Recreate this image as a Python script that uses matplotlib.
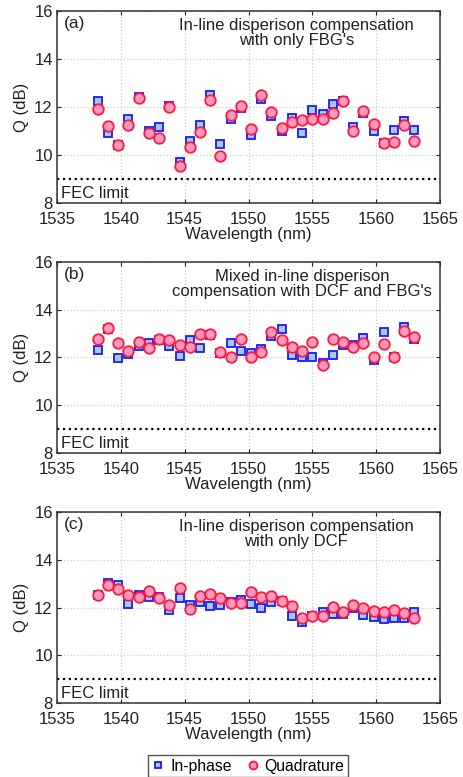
import matplotlib
matplotlib.use("Agg")
import matplotlib.pyplot as plt

plt.rcParams['font.family'] = ['Liberation Sans', 'DejaVu Sans']

wavelength = [1538.2, 1539.0, 1539.8, 1540.6, 1541.4, 1542.2, 1543.0, 1543.8,
              1544.6, 1545.4, 1546.2, 1547.0, 1547.8, 1548.6, 1549.4, 1550.2,
              1551.0, 1551.8, 1552.6, 1553.4, 1554.2, 1555.0, 1555.8, 1556.6,
              1557.4, 1558.2, 1559.0, 1559.8, 1560.6, 1561.4, 1562.2, 1563.0]

a_inphase = [12.24, 10.90, 10.41, 11.48, 12.41, 10.99, 11.16, 12.03,
             9.71, 10.60, 11.24, 12.51, 10.46, 11.52, 11.94, 10.83,
             12.34, 11.62, 10.99, 11.55, 10.92, 11.88, 11.69, 12.11,
             12.27, 11.17, 11.73, 11.02, 10.52, 11.03, 11.41, 11.06]
a_quad = [11.90, 11.20, 10.41, 11.24, 12.36, 10.92, 10.71, 11.99,
          9.56, 10.33, 10.95, 12.31, 9.95, 11.66, 12.04, 11.09,
          12.50, 11.79, 11.13, 11.38, 11.44, 11.52, 11.48, 11.76,
          12.27, 11.02, 11.83, 11.31, 10.52, 10.53, 11.23, 10.58]

b_inphase = [12.31, 13.20, 11.96, 12.14, 12.49, 12.59, 12.73, 12.49,
             12.07, 12.73, 12.39, 12.95, 12.18, 12.60, 12.28, 12.17,
             12.35, 12.91, 13.19, 12.11, 12.00, 12.03, 11.78, 12.11,
             12.53, 12.52, 12.81, 11.90, 13.05, 12.00, 13.29, 12.77]
b_quad = [12.77, 13.23, 12.59, 12.28, 12.66, 12.39, 12.77, 12.73,
          12.52, 12.42, 12.98, 12.98, 12.24, 12.03, 12.77, 12.03,
          12.25, 13.08, 12.74, 12.46, 12.28, 12.67, 11.68, 12.77,
          12.66, 12.46, 12.59, 12.03, 12.56, 12.00, 13.09, 12.84]

c_inphase = [12.52, 13.01, 12.94, 12.14, 12.52, 12.42, 12.42, 11.89,
             12.38, 12.10, 12.24, 12.07, 12.10, 12.24, 12.31, 12.14,
             12.00, 12.24, 12.28, 11.64, 11.40, 11.64, 11.82, 11.72,
             11.72, 12.00, 11.68, 11.61, 11.51, 11.54, 11.58, 11.82]
c_quad = [12.52, 12.94, 12.76, 12.52, 12.42, 12.70, 12.41, 12.10,
          12.83, 11.93, 12.48, 12.56, 12.38, 12.17, 12.17, 12.66,
          12.45, 12.48, 12.28, 12.06, 11.58, 11.64, 11.64, 12.03,
          11.82, 12.10, 11.96, 11.86, 11.82, 11.89, 11.75, 11.54]

panels = [
    ("(a)", "In-line disperison compensation\nwith only FBG's", a_inphase, a_quad),
    ("(b)", "Mixed in-line disperison\ncompensation with DCF and FBG's", b_inphase, b_quad),
    ("(c)", "In-line disperison compensation\nwith only DCF", c_inphase, c_quad),
]

fec_limit = 9.0
xticks = [1535, 1540, 1545, 1550, 1555, 1560, 1565]
yticks = [8, 10, 12, 14, 16]

W, H = 463, 777
fig = plt.figure(figsize=(W / 100, H / 100), dpi=100)

# axes boxes in pixels: (left, top, right, bottom)
boxes = [(57, 11, 440, 203), (57, 262, 440, 453), (57, 512, 440, 703)]
title_x = [0.625, 0.64, 0.625]

FS = 12
TXT = '#222222'
handles = None
for i, ((lab, title, inph, quad), (l, t, r, b)) in enumerate(zip(panels, boxes)):
    ax = fig.add_axes([l / W, 1 - b / H, (r - l) / W, (b - t) / H])
    ax.set_xlim(1535, 1565)
    ax.set_ylim(8, 16)
    ax.set_xticks(xticks)
    ax.set_yticks(yticks)
    ax.grid(True, color='#cccccc', linestyle=':', linewidth=0.9)
    ax.set_axisbelow(True)
    ax.axhline(fec_limit, color='black', linestyle=':', linewidth=1.6)
    h1, = ax.plot(wavelength, inph, linestyle='none', marker='s', markersize=6.2,
                  markerfacecolor='#a9c8ee', markeredgecolor='#1a1aff',
                  markeredgewidth=1.3, label='In-phase', zorder=3)
    h2, = ax.plot(wavelength, quad, linestyle='none', marker='o', markersize=7.6,
                  markerfacecolor='#ff99bf', markeredgecolor='#ff1a3c',
                  markeredgewidth=1.3, label='Quadrature', zorder=4)
    handles = [h1, h2]
    ax.tick_params(direction='in', labelsize=FS, length=3, width=0.8,
                   colors=TXT, top=True, right=True)
    ax.tick_params(axis='x', pad=6.5)
    ax.tick_params(axis='y', pad=3)
    for sp in ax.spines.values():
        sp.set_linewidth(1.1)
        sp.set_color('#333333')
    ax.set_xlabel('Wavelength (nm)', fontsize=FS, labelpad=0, color=TXT)
    ax.set_ylabel('Q (dB)', fontsize=FS, labelpad=4, color=TXT)
    ax.text(0.018, 0.975, lab, transform=ax.transAxes, ha='left', va='top',
            fontsize=12.5, color=TXT)
    ax.text(title_x[i], 0.965, title, transform=ax.transAxes, ha='center', va='top',
            fontsize=FS, color=TXT, linespacing=1.05)
    ax.text(0.01, 0.01, 'FEC limit', transform=ax.transAxes, ha='left',
            va='bottom', fontsize=FS, color=TXT)

fig.legend(handles=handles, labels=['In-phase', 'Quadrature'],
           loc='center', bbox_to_anchor=(248 / W, 1 - 766 / H), ncol=2,
           fontsize=11.3, frameon=True, fancybox=False, edgecolor='#555555',
           handletextpad=0.3, columnspacing=0.9, borderpad=0.2,
           handlelength=0.9, markerscale=0.75, framealpha=1)

fig.savefig('out.png', dpi=100)
